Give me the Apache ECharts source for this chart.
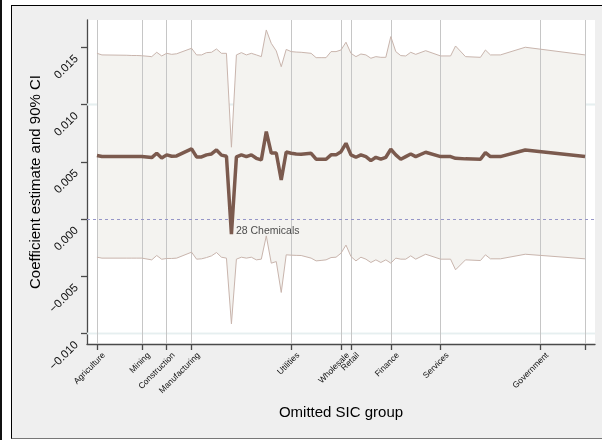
<!DOCTYPE html>
<html>
<head>
<meta charset="utf-8">
<script src="https://cdn.jsdelivr.net/npm/echarts@6/dist/echarts.min.js"></script>
<style>
  body { margin: 0; background: #fff; }
  #wrap { position: relative; width: 602px; height: 440px; overflow: hidden; }
  #edge { position: absolute; left: 0; top: 0; width: 2px; height: 440px; background: #111; }
  #frame { position: absolute; left: 11px; top: 5px; width: 600px; height: 432px;
           background: #efefef; border-left: 1px solid #000; border-top: 1px solid #000;
           border-bottom: 1px solid #777; }
  #chart { position: absolute; left: 0; top: 0; width: 602px; height: 440px; }
</style>
</head>
<body>
<div id="wrap">
  <div id="edge"></div>
  <div id="frame"></div>
  <div id="chart"></div>
</div>
<script>
// Two-digit SIC code left out of the estimation sample
const sicCodes = [1, 2, 7, 8, 9, 10, 12, 13, 14, 15, 16, 17,
  20, 21, 22, 23, 24, 25, 26, 27, 28, 29, 30, 31, 32, 33, 34, 35, 36, 37, 38, 39,
  40, 41, 42, 44, 45, 46, 47, 48, 49, 50, 51, 52, 53, 54, 55, 56, 57, 58, 59,
  60, 61, 62, 63, 64, 65, 67, 70, 72, 73, 75, 78, 79, 80, 82, 87, 99];

// Point estimate of the coefficient
const estimate = [0.00556, 0.00547, 0.00547, 0.00547, 0.00547, 0.00547, 0.00538, 0.00576, 0.00535, 0.00562, 0.00550, 0.00553,
  0.00614, 0.00544, 0.00544, 0.00562, 0.00570, 0.00605, 0.00560, 0.00550, -0.00130, 0.00545, 0.00562, 0.00547, 0.00562, 0.00532, 0.00518, 0.00765, 0.00578, 0.00578, 0.00343, 0.00587,
  0.00576, 0.00570, 0.00568, 0.00576, 0.00524, 0.00524, 0.00524, 0.00562, 0.00562, 0.00590, 0.00663, 0.00562, 0.00541, 0.00562, 0.00547, 0.00512, 0.00541, 0.00524, 0.00541,
  0.00611, 0.00562, 0.00524, 0.00547, 0.00570, 0.00547, 0.00585, 0.00547, 0.00547, 0.00532, 0.00527, 0.00524, 0.00582, 0.00547, 0.00547, 0.00605, 0.00547];

// Upper bound of the 90% confidence interval
const ciUpper = [0.01449, 0.01435, 0.01432, 0.01430, 0.01430, 0.01428, 0.01420, 0.01458, 0.01426, 0.01449, 0.01440, 0.01445,
  0.01493, 0.01435, 0.01435, 0.01455, 0.01458, 0.01487, 0.01449, 0.01449, 0.00629, 0.01435, 0.01455, 0.01435, 0.01449, 0.01435, 0.01420, 0.01653, 0.01536, 0.01470, 0.01332, 0.01483,
  0.01464, 0.01460, 0.01458, 0.01449, 0.01411, 0.01411, 0.01411, 0.01464, 0.01464, 0.01478, 0.01546, 0.01449, 0.01420, 0.01443, 0.01435, 0.01406, 0.01420, 0.01414, 0.01414,
  0.01595, 0.01464, 0.01429, 0.01426, 0.01458, 0.01440, 0.01472, 0.01426, 0.01426, 0.01513, 0.01420, 0.01414, 0.01478, 0.01435, 0.01435, 0.01502, 0.01435];

// Lower bound of the 90% confidence interval
const ciLower = [-0.00332, -0.00340, -0.00340, -0.00340, -0.00340, -0.00340, -0.00355, -0.00317, -0.00350, -0.00343, -0.00343, -0.00340,
  -0.00288, -0.00349, -0.00346, -0.00335, -0.00320, -0.00291, -0.00332, -0.00340, -0.00914, -0.00349, -0.00332, -0.00340, -0.00332, -0.00355, -0.00349, -0.00146, -0.00384, -0.00370, -0.00640, -0.00311,
  -0.00314, -0.00316, -0.00317, -0.00340, -0.00364, -0.00360, -0.00355, -0.00335, -0.00332, -0.00297, -0.00226, -0.00326, -0.00364, -0.00332, -0.00349, -0.00378, -0.00355, -0.00378, -0.00355,
  -0.00384, -0.00340, -0.00349, -0.00349, -0.00320, -0.00349, -0.00306, -0.00349, -0.00349, -0.00442, -0.00355, -0.00361, -0.00311, -0.00346, -0.00346, -0.00306, -0.00346];

// Division boundaries along the SIC axis
const sectorTicks = [1, 10, 15, 20, 40, 50, 52, 60, 70, 90, 99];
const sectorNames = ['Agriculture', 'Mining', 'Construction', 'Manufacturing', 'Utilities',
  'Wholesale', 'Retail', 'Finance', 'Services', 'Government', ''];

// Value-axis ticks
const yTicks = [-0.010, -0.005, 0, 0.005, 0.010, 0.015];
const yGridValues = [-0.010, -0.005, 0.005, 0.010, 0.015];

// Points annotated with their industry name
const namedPoints = { 28: 'Chemicals' };

const FONT = '"Liberation Sans", Arial, Helvetica, sans-serif';
const sectorLabelValues = sectorTicks.filter((t, i) => sectorNames[i] !== '');
const sectorLookup = {};
sectorTicks.forEach((t, i) => { sectorLookup[t] = sectorNames[i]; });

const upperData = sicCodes.map((s, i) => [s, ciUpper[i]]);
const lowerData = sicCodes.map((s, i) => [s, ciLower[i]]);
const estData = sicCodes.map((s, i) => [s, estimate[i]]);
const namedData = sicCodes
  .map((s, i) => ({ s, i }))
  .filter(p => namedPoints[p.s])
  .map(p => ({ value: [p.s, estimate[p.i]], name: p.s + ' ' + namedPoints[p.s] }));

const bandEdge = '#c9b5ad';
const chart = echarts.init(document.getElementById('chart'), null, { renderer: 'canvas' });

chart.setOption({
  backgroundColor: 'transparent',
  animation: false,
  grid: {
    left: 87, right: 7, top: 20, bottom: 96,
    show: true, backgroundColor: '#ffffff', borderWidth: 0
  },
  xAxis: {
    type: 'value', min: -1, max: 101,
    name: 'Omitted SIC group', nameLocation: 'middle', nameGap: 61, nameMoveOverlap: false,
    nameTextStyle: { fontFamily: FONT, fontSize: 15, color: '#000' },
    axisLine: { show: true, onZero: false, lineStyle: { color: '#4a4a4a', width: 1.3 } },
    axisTick: { show: true, customValues: sectorTicks, length: 6, lineStyle: { color: '#4a4a4a', width: 1.3 } },
    axisLabel: {
      customValues: sectorLabelValues, rotate: 45, margin: 3,
      verticalAlign: 'top', lineHeight: 20,
      fontFamily: FONT, fontSize: 8.5, color: '#111',
      formatter: v => sectorLookup[v] || ''
    },
    splitLine: { show: false }
  },
  yAxis: {
    type: 'value', min: -0.0109, max: 0.0174,
    name: 'Coefficient estimate and 90% CI', nameLocation: 'middle', nameGap: 44, nameMoveOverlap: false,
    nameTextStyle: { fontFamily: FONT, fontSize: 15, color: '#000' },
    axisLine: { show: true, onZero: false, lineStyle: { color: '#4a4a4a', width: 1.3 } },
    axisTick: { show: true, customValues: yTicks, length: 6, lineStyle: { color: '#4a4a4a', width: 1.3 } },
    axisLabel: {
      customValues: yTicks, rotate: 45, margin: 20,
      verticalAlign: 'top', lineHeight: 27,
      fontFamily: FONT, fontSize: 11.5, color: '#111',
      formatter: v => v.toFixed(3).replace('-', '\u2212')
    },
    splitLine: { show: false }
  },
  series: [
    {
      // horizontal reference lines, under the band
      type: 'line', data: [], silent: true,
      markLine: {
        z: 1, silent: true, symbol: 'none', label: { show: false },
        lineStyle: { type: 'solid', color: '#e6eff0', width: 1.3 },
        data: yGridValues.map(v => ({ yAxis: v }))
      }
    },
    {
      // shaded confidence band between the two bounds
      type: 'custom', z: 2, silent: true,
      data: [[sicCodes[0], ciLower[0]]],
      encode: { x: 0, y: 1 },
      renderItem: (params, api) => {
        const top = sicCodes.map((s, i) => api.coord([s, ciUpper[i]]));
        const bottom = sicCodes.map((s, i) => api.coord([s, ciLower[i]])).reverse();
        return {
          type: 'polygon',
          shape: { points: top.concat(bottom) },
          style: { fill: '#f4f3f0' }
        };
      }
    },
    {
      // division boundaries and the zero line, over the band
      type: 'line', data: [], silent: true,
      markLine: {
        z: 3, silent: true, symbol: 'none', label: { show: false },
        data: sectorTicks.map(t => ({ xAxis: t, lineStyle: { type: 'solid', color: '#c6c6c6', width: 1 } }))
          .concat([{ yAxis: 0, lineStyle: { type: [3, 3], color: '#9696c8', width: 1 } }])
      }
    },
    {
      name: 'upper', type: 'line', data: upperData, z: 4,
      symbol: 'none', silent: true,
      lineStyle: { color: bandEdge, width: 1 }
    },
    {
      name: 'lower', type: 'line', data: lowerData, z: 4,
      symbol: 'none', silent: true,
      lineStyle: { color: bandEdge, width: 1 }
    },
    {
      name: 'estimate', type: 'line', data: estData, z: 6,
      symbol: 'none', silent: true,
      lineStyle: { color: '#7b5a4e', width: 3.5 }
    },
    {
      // industry name beside the annotated estimate
      type: 'scatter', data: namedData, z: 7, silent: true,
      symbolSize: 1, itemStyle: { color: 'rgba(0,0,0,0)' },
      label: {
        show: true, position: 'right', distance: 4, offset: [0, -3],
        formatter: p => p.name,
        fontFamily: FONT, fontSize: 10.5, color: '#222'
      }
    }
  ]
});
</script>
</body>
</html>
